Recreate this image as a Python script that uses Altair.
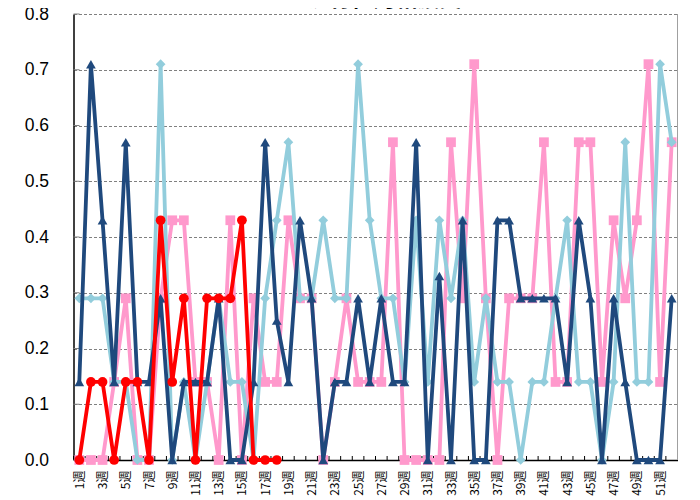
import altair as alt
import pandas as pd

weeks = [f"{i}週" for i in range(1, 53)]
label_weeks = weeks[::2]
y_ticks = [0.0, 0.1, 0.2, 0.3, 0.4, 0.5, 0.6, 0.7, 0.8]
title_text = "流行性角結膜炎"

s_pink = [0, 0, 0, 0.14, 0.29, 0, 0, 0.29, 0.43, 0.43,
          0.14, 0.14, 0, 0.43, 0, 0.29, 0.14, 0.14, 0.43, 0.29,
          0.29, 0, 0.14, 0.29, 0.14, 0.14, 0.14, 0.57, 0, 0,
          0, 0, 0.57, 0.29, 0.71, 0.29, 0, 0.29, 0.29, 0.29,
          0.57, 0.14, 0.14, 0.57, 0.57, 0.14, 0.43, 0.29, 0.43, 0.71,
          0.14, 0.57]
s_lblue = [0.29, 0.29, 0.29, 0.14, 0.14, 0, 0, 0.71, 0, 0.14,
           0, 0.14, 0.29, 0.14, 0.14, 0, 0.29, 0.43, 0.57, 0.29,
           0.29, 0.43, 0.29, 0.29, 0.71, 0.43, 0.29, 0.29, 0.14, 0.43,
           0.14, 0.43, 0.29, 0.43, 0.14, 0.29, 0.14, 0.14, 0, 0.14,
           0.14, 0.29, 0.43, 0.14, 0.14, 0, 0.14, 0.57, 0.14, 0.14,
           0.71, 0.57]
s_dblue = [0.14, 0.71, 0.43, 0.14, 0.57, 0.14, 0.14, 0.29, 0, 0.14,
           0.14, 0.14, 0.29, 0, 0, 0.14, 0.57, 0.25, 0.14, 0.43,
           0.29, 0, 0.14, 0.14, 0.29, 0.14, 0.29, 0.14, 0.14, 0.57,
           0, 0.33, 0, 0.43, 0, 0, 0.43, 0.43, 0.29, 0.29,
           0.29, 0.29, 0.14, 0.43, 0.29, 0, 0.29, 0.14, 0, 0,
           0, 0.29]
s_red = [0, 0.14, 0.14, 0, 0.14, 0.14, 0, 0.43, 0.14, 0.29,
         0, 0.29, 0.29, 0.29, 0.43, 0, 0, 0]

series = [
    ("系列1", s_pink, "#FF99CC", "square"),
    ("系列2", s_lblue, "#92CDDC", "diamond"),
    ("系列3", s_dblue, "#1F497D", "triangle-up"),
    ("系列4", s_red, "#FF0000", "circle"),
]

W, H = 604, 446

x_enc = alt.X(
    "week:O",
    sort=weeks,
    scale=alt.Scale(type="point", domain=weeks, padding=0.5),
    axis=alt.Axis(
        values=label_weeks, labelAngle=-90, ticks=False, domain=True,
        domainColor="#000000", domainWidth=1.5, grid=False,
        labelFont="Noto Sans CJK JP", labelFontSize=12, labelColor="#000000",
        labelPadding=10, title=None,
    ),
)
y_enc = alt.Y(
    "value:Q",
    scale=alt.Scale(domain=[0, 0.8], nice=False, zero=True),
    axis=alt.Axis(
        values=y_ticks, format=".1f", ticks=False, domain=True,
        domainColor="#000000", domainWidth=1.5, grid=True,
        gridColor="#808080", gridDash=[3, 2], gridWidth=1,
        labelFont="Liberation Sans", labelFontSize=17.5, labelColor="#000000",
        labelPadding=25, title=None,
    ),
)

layers = []

# x inward ticks at category boundaries
tick_df = pd.DataFrame({"week": weeks, "value": [0] * len(weeks)})
layers.append(
    alt.Chart(tick_df).mark_rule(color="#000000", strokeWidth=1).encode(
        x=x_enc, xOffset=alt.value(-W / 52 / 2),
        y=alt.value(H - 4), y2=alt.value(H),
    )
)
# y inward ticks
ytick_df = pd.DataFrame({"value": y_ticks})
layers.append(
    alt.Chart(ytick_df).mark_rule(color="#808080", strokeWidth=1).encode(
        y=y_enc, x=alt.value(0), x2=alt.value(6),
    )
)
# right border
layers.append(
    alt.Chart(pd.DataFrame({"value": [0]})).mark_rule(color="#A0A0A0", strokeWidth=1).encode(
        x=alt.value(W), y=alt.value(0), y2=alt.value(H),
    )
)

for name, vals, color, shape in series:
    df = pd.DataFrame({"week": weeks[: len(vals)], "value": vals, "series": name})
    layers.append(
        alt.Chart(df).mark_line(
            color=color, strokeWidth=3.8,
            point=alt.OverlayMarkDef(shape=shape, filled=True, size=95, color=color, opacity=1),
        ).encode(x=x_enc, y=y_enc)
    )

# title (cut off at the top, as in the reference)
layers.append(
    alt.Chart(pd.DataFrame({"t": [title_text]})).mark_text(
        font="Noto Sans CJK JP", fontSize=22, fontWeight="bold", color="#000000",
        baseline="bottom", align="center",
    ).encode(x=alt.value(311), y=alt.value(-3), text="t:N")
)

chart = alt.layer(*layers).properties(
    width=W, height=H,
    padding={"left": 65.5, "top": 6, "right": 10, "bottom": 40},
    autosize=alt.AutoSizeParams(type="none"),
).configure_view(stroke=None)

chart.save("out.html", embed_options={"renderer": "svg", "actions": False})
